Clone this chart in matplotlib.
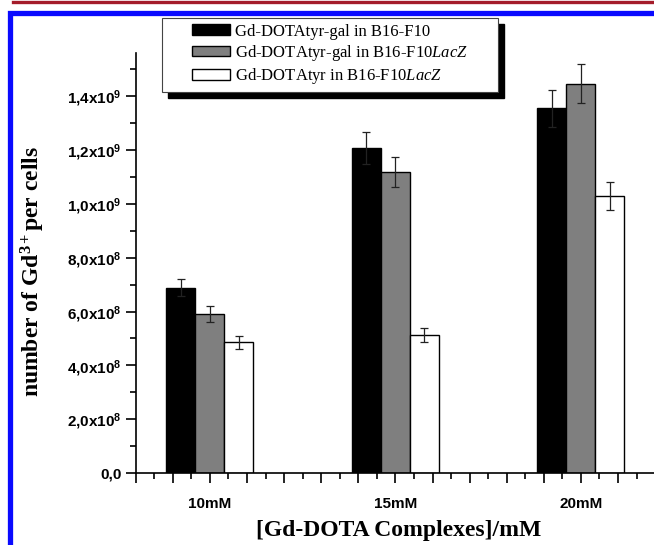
import matplotlib
matplotlib.use('Agg')
import matplotlib.pyplot as plt
from matplotlib.lines import Line2D
from matplotlib.patches import Rectangle
from matplotlib.ticker import MultipleLocator, FixedLocator

plt.rcParams['mathtext.fontset'] = 'custom'
plt.rcParams['mathtext.rm'] = 'Liberation Serif'
plt.rcParams['mathtext.it'] = 'Liberation Serif:italic'
plt.rcParams['mathtext.bf'] = 'Liberation Serif:bold'
plt.rcParams['mathtext.sf'] = 'Liberation Sans:bold'

# concentrations (mM) and Gd3+ uptake per cell
conc = [10, 15, 20]
conc_labels = ['10mM', '15mM', '20mM']
series_names = [
    'Gd-DOTAtyr-gal in B16-F10',
    r'Gd-DOTAtyr-gal in B16-F10$\mathit{LacZ}$',
    r'Gd-DOTAtyr in B16-F10$\mathit{LacZ}$',
]
gal_f10 = [0.689e9, 1.206e9, 1.354e9]
gal_f10_err = [0.032e9, 0.060e9, 0.068e9]
gal_lacz = [0.590e9, 1.118e9, 1.445e9]
gal_lacz_err = [0.029e9, 0.055e9, 0.072e9]
tyr_lacz = [0.486e9, 0.513e9, 1.029e9]
tyr_lacz_err = [0.024e9, 0.026e9, 0.053e9]

yticks = [0, 0.2e9, 0.4e9, 0.6e9, 0.8e9, 1.0e9, 1.2e9, 1.4e9]
ytick_labels = ['0,0',
                r'$\mathsf{2{,}0x10^{8}}$', r'$\mathsf{4{,}0x10^{8}}$',
                r'$\mathsf{6{,}0x10^{8}}$', r'$\mathsf{8{,}0x10^{8}}$',
                r'$\mathsf{1{,}0x10^{9}}$', r'$\mathsf{1{,}2x10^{9}}$',
                r'$\mathsf{1{,}4x10^{9}}$']

W, H = 654, 545
fig = plt.figure(figsize=(W / 100, H / 100), dpi=100)
ax = fig.add_axes([135.7 / W, (H - 473.3) / H, 519.4 / W, 420.6 / H])

width = 0.78
series = [
    (gal_f10, gal_f10_err, 'black', -width),
    (gal_lacz, gal_lacz_err, '#7f7f7f', 0.0),
    (tyr_lacz, tyr_lacz_err, 'white', width),
]
handles = []
for (vals, errs, col, off), name in zip(series, series_names):
    xs = [c + off for c in conc]
    b = ax.bar(xs, vals, width=width, color=col, edgecolor='black',
               linewidth=1.0, label=name, zorder=2)
    ax.errorbar(xs, vals, yerr=errs, fmt='none', ecolor='#222222',
                elinewidth=0.9, capsize=3.2, capthick=0.9, zorder=3)
    handles.append(b)

ax.set_xlim(8, 22)
ax.set_ylim(0, 1.56e9)

ax.spines['top'].set_visible(False)
ax.spines['right'].set_visible(False)
ax.spines['left'].set_linewidth(1.2)
ax.spines['bottom'].set_linewidth(1.2)

# x: majors at every mM, labels only at the measured concentrations
majors = list(range(8, 23))
ax.xaxis.set_major_locator(FixedLocator(majors))
ax.set_xticklabels([conc_labels[conc.index(m)] if m in conc else '' for m in majors])
ax.xaxis.set_minor_locator(MultipleLocator(0.5))
ax.set_yticks(yticks)
ax.set_yticklabels(ytick_labels)
ax.yaxis.set_minor_locator(MultipleLocator(0.1e9))

ax.tick_params(which='major', direction='out', length=7, width=1.2,
               labelsize=11)
ax.tick_params(which='minor', direction='out', length=4, width=1.2)
ax.tick_params(axis='x', which='major', pad=10)
ax.tick_params(axis='y', which='major', pad=3)
for lbl in ax.get_xticklabels() + ax.get_yticklabels():
    lbl.set_fontfamily('Liberation Sans')
    lbl.set_fontweight('bold')

ax.set_ylabel(r'number of Gd$^{\mathbf{3+}}$per cells', family='Liberation Serif',
              fontweight='bold', fontsize=17)
ax.yaxis.set_label_coords(-0.171, 0.48)
ax.set_xlabel('[Gd-DOTA Complexes]/mM', family='Liberation Serif',
              fontweight='bold', fontsize=17)
ax.xaxis.set_label_coords(0.507, -0.112)

# legend box with a solid drop shadow
bx0, by0, bx1, by1 = 162, 18.3, 498, 92.3
shadow = Rectangle(((bx0 + 6) / W, (H - by1 - 6) / H), (bx1 - bx0) / W,
                   (by1 - by0) / H, transform=fig.transFigure,
                   facecolor='black', edgecolor='black', zorder=5)
frame = Rectangle((bx0 / W, (H - by1) / H), (bx1 - bx0) / W, (by1 - by0) / H,
                  transform=fig.transFigure, facecolor='white',
                  edgecolor='#444444', linewidth=0.8, zorder=6)
fig.add_artist(shadow)
fig.add_artist(frame)
leg = fig.legend(handles=handles, loc='upper left',
                 bbox_to_anchor=(191.7 / W, 1 - 23.5 / H),
                 frameon=False, borderpad=0, borderaxespad=0,
                 prop={'family': 'Liberation Serif', 'size': 12},
                 handlelength=2.28, handleheight=0.6, handletextpad=0.3,
                 labelspacing=0.2)
leg.set_zorder(7)

# page decorations: red rule and blue panel border
fig.add_artist(Line2D([13 / W, 1], [1 - 1.5 / H, 1 - 1.5 / H],
                      transform=fig.transFigure, color='#a41c2a', lw=2.4))
fig.add_artist(Line2D([10 / W, 10 / W, 1.01], [-0.01, 1 - 13 / H, 1 - 13 / H],
                      transform=fig.transFigure, color='#0a0aff', lw=3.8,
                      solid_joinstyle='miter'))

fig.savefig('out.png', dpi=100)
